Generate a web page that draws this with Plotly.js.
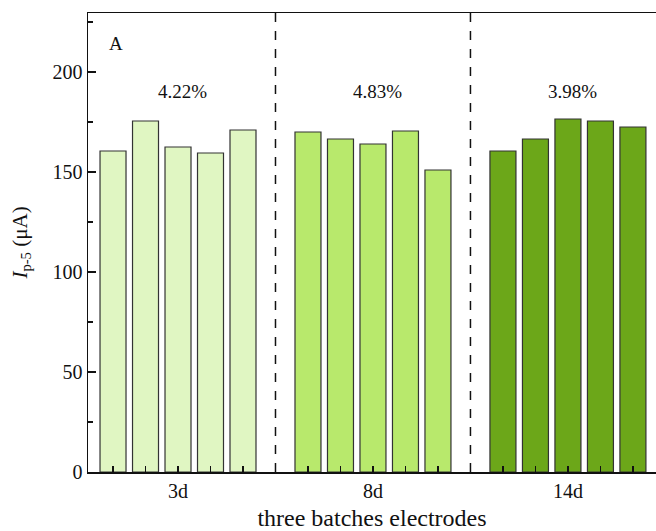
<!DOCTYPE html>
<html>
<head>
<meta charset="utf-8">
<script src="https://cdn.plot.ly/plotly-3.0.1.min.js"></script>
<style>html,body{margin:0;padding:0;overflow:hidden;background:#fff}</style>
</head>
<body>
<div id="chart" style="width:656px;height:531px"></div>
<script>
var groups = ["3d", "8d", "14d"];
var values3d = [160.5, 175.5, 162.5, 159.5, 171.0];
var values8d = [170.0, 166.5, 164.0, 170.5, 151.0];
var values14d = [160.5, 166.5, 176.5, 175.5, 172.5];
var rsdLabels = ["4.22%", "4.83%", "3.98%"];
var colors = ["#e0f6c2", "#b8e96c", "#6ca719"];

var allValues = [values3d, values8d, values14d];
var perGroup = 5, slot = 6;
var font = "'Liberation Serif', serif";

var traces = allValues.map(function (vals, g) {
  return {
    type: "bar",
    x: vals.map(function (v, j) { return g * slot + j; }),
    y: vals,
    width: 0.8,
    marker: { color: colors[g], line: { color: "#333333", width: 1.2 } },
    showlegend: false,
    hoverinfo: "y"
  };
});

var labelVals = groups.map(function (t, g) { return g * slot + 2; });
var minorVals = [];
for (var i = 0; i < groups.length * slot - 1; i++) minorVals.push(i);

var shapes = [1, 2].map(function (k) {
  return {
    type: "line", xref: "x", yref: "paper",
    x0: k * slot - 1, x1: k * slot - 1, y0: 0, y1: 1,
    line: { color: "#111", width: 1.5, dash: "dash" }
  };
});

var annotations = rsdLabels.map(function (t, g) {
  return {
    text: t, x: g * slot + 2.15, y: 190.5, xref: "x", yref: "y",
    showarrow: false, font: { family: font, size: 19, color: "#111" }
  };
});
annotations.push({
  text: "A", x: 0.1, y: 214.5, xref: "x", yref: "y",
  showarrow: false, font: { family: font, size: 19, color: "#111" }
});

var layout = {
  width: 656, height: 531,
  margin: { l: 88, r: 0, t: 13, b: 59 },
  paper_bgcolor: "#fff", plot_bgcolor: "#fff",
  font: { family: font, color: "#111" },
  xaxis: {
    range: [-0.77, 16.71],
    tickvals: labelVals, ticktext: groups,
    ticks: "inside", ticklen: 6, tickwidth: 1.2, tickcolor: "#111",
    minor: { tickvals: minorVals, ticks: "inside", ticklen: 6, tickwidth: 1.2, tickcolor: "#111", showgrid: false },
    showline: true, linecolor: "#111", linewidth: 1.5, mirror: true,
    showgrid: false, zeroline: false,
    tickfont: { family: font, size: 20, color: "#111" },
    title: { text: "three batches electrodes", font: { family: font, size: 24, color: "#111" }, standoff: 8 }
  },
  yaxis: {
    range: [0, 229.5],
    tickvals: [0, 50, 100, 150, 200],
    ticks: "inside", ticklen: 8, tickwidth: 1.2, tickcolor: "#111",
    minor: { tickvals: [25, 75, 125, 175, 225], ticks: "inside", ticklen: 5, tickwidth: 1.2, tickcolor: "#111", showgrid: false },
    showline: true, linecolor: "#111", linewidth: 1.5, mirror: false,
    showgrid: false, zeroline: false,
    tickfont: { family: font, size: 20, color: "#111" },
    title: { text: "<i>I</i><sub>p-5</sub> (μA)", font: { family: font, size: 21, color: "#111" }, standoff: 19 }
  },
  bargap: 0.2,
  shapes: shapes,
  annotations: annotations
};

Plotly.newPlot("chart", traces, layout, { displayModeBar: false, staticPlot: true });
</script>
</body>
</html>
